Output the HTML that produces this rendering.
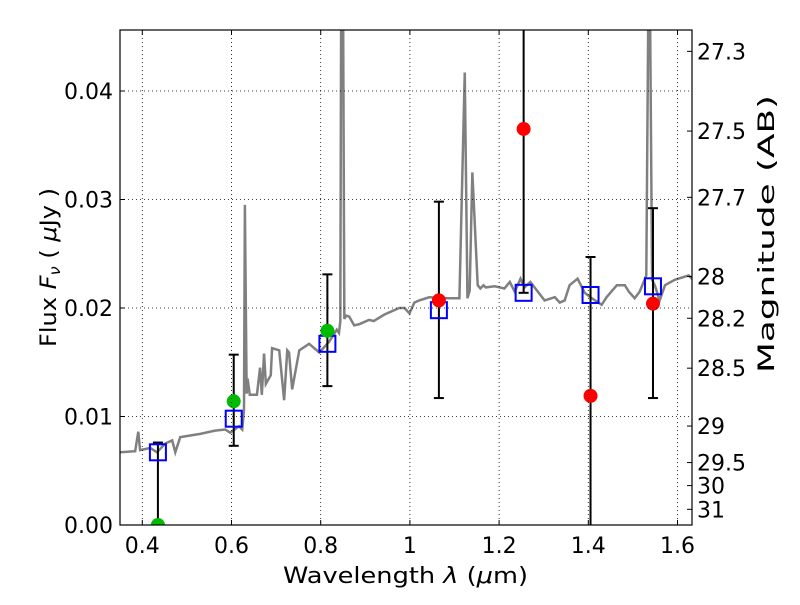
<!DOCTYPE html>
<html><head><meta charset="utf-8"><style>body{margin:0;background:#fff}svg{font-family:"DejaVu Sans","Liberation Sans",sans-serif}</style></head>
<body>
<svg id="chart" width="800" height="600" xmlns="http://www.w3.org/2000/svg"></svg>
<script>
const specLam=[0.35,0.384,0.391,0.395,0.418,0.433,0.451,0.467,0.474,0.485,0.530,0.563,0.586,0.597,0.617,0.624,0.628,0.630,0.634,0.636,0.641,0.657,0.664,0.668,0.673,0.677,0.688,0.691,0.707,0.718,0.725,0.729,0.736,0.752,0.774,0.797,0.819,0.830,0.836,0.841,0.844,0.846,0.850,0.853,0.857,0.864,0.875,0.886,0.908,0.919,0.943,0.976,0.988,0.999,1.010,1.021,1.044,1.066,1.111,1.123,1.129,1.134,1.140,1.152,1.158,1.165,1.170,1.190,1.212,1.224,1.235,1.248,1.257,1.270,1.302,1.325,1.336,1.347,1.358,1.376,1.392,1.408,1.430,1.441,1.464,1.482,1.491,1.504,1.515,1.526,1.530,1.535,1.538,1.543,1.549,1.560,1.572,1.594,1.625,1.635];
const specFlux=[0.0067,0.0068,0.0086,0.0069,0.0071,0.0067,0.0075,0.0078,0.0067,0.0081,0.0084,0.0087,0.0088,0.0085,0.0091,0.0088,0.0106,0.0295,0.0121,0.0135,0.0120,0.0120,0.0145,0.0120,0.0158,0.0130,0.0138,0.0163,0.0161,0.0115,0.0161,0.0159,0.0125,0.0161,0.0167,0.0159,0.0169,0.0176,0.0180,0.0177,0.0188,0.0500,0.0500,0.0190,0.0193,0.0192,0.0184,0.0185,0.0189,0.0188,0.0194,0.0200,0.0200,0.0195,0.0205,0.0207,0.0210,0.0209,0.0209,0.0417,0.0209,0.0216,0.0325,0.0221,0.0218,0.0221,0.0219,0.0220,0.0218,0.0224,0.0215,0.0227,0.0219,0.0224,0.0207,0.0210,0.0205,0.0207,0.0221,0.0227,0.0214,0.0209,0.0203,0.0210,0.0221,0.0221,0.0215,0.0209,0.0215,0.0226,0.0230,0.0500,0.0500,0.0226,0.0221,0.0207,0.0221,0.0226,0.0230,0.0226];
const bandLam=[0.435,0.605,0.815,1.065,1.255,1.405,1.545];
const modelFlux=[0.0067,0.0098,0.0167,0.0198,0.0214,0.0212,0.0220];
const obsFlux=[0.0,0.0114,0.0179,0.0207,0.0365,0.0119,0.0204];
const obsColor=["green","green","green","red","red","red","red"];
const errLo=[-0.01,0.0073,0.0128,0.0117,0.0214,-0.01,0.0117];
const errHi=[0.0076,0.0157,0.0231,0.0298,0.06,0.0247,0.0292];
const xTicks=[0.4,0.6,0.8,1.0,1.2,1.4,1.6];
const xTickLabels=["0.4","0.6","0.8","1","1.2","1.4","1.6"];
const yTicks=[0,0.01,0.02,0.03,0.04];
const yTickLabels=["0.00","0.01","0.02","0.03","0.04"];
const magTicks=[27.3,27.5,27.7,28,28.2,28.5,29,29.5,30,31];
const magLabels=["27.3","27.5","27.7","28","28.2","28.5","29","29.5","30","31"];

const L=120,R=692,T=30,B=525;
const xmin=0.35,xmax=1.6325,ymin=0,ymax=(B-T)/10850;
const sx=v=>L+(v-xmin)/(xmax-xmin)*(R-L);
const sy=v=>B-(v-ymin)/(ymax-ymin)*(B-T);
const NS="http://www.w3.org/2000/svg";
const svg=document.getElementById('chart');
function mk(tag,attrs,parent){const e=document.createElementNS(NS,tag);for(const k in attrs)e.setAttribute(k,attrs[k]);(parent||svg).appendChild(e);return e;}
const defs=mk('defs',{});const cp=mk('clipPath',{id:'clip'},defs);mk('rect',{x:L,y:T,width:R-L,height:B-T},cp);
const plot=mk('g',{'clip-path':'url(#clip)'});

xTicks.forEach((t,i)=>{const x=sx(t);
 const g=mk('line',{x1:x,x2:x,y1:T,y2:B,stroke:'#000','stroke-dasharray':'1,3','stroke-width':0.8});
 
 mk('line',{x1:x,x2:x,y1:B,y2:B-5,stroke:'#000'});mk('line',{x1:x,x2:x,y1:T,y2:T+5,stroke:'#000'});
 const tx=mk('text',{x:x,y:B+28,'text-anchor':'middle','font-size':22});tx.textContent=xTickLabels[i];
 });
yTicks.forEach((t,i)=>{const y=sy(t);
 const g=mk('line',{x1:L,x2:R,y1:y,y2:y,stroke:'#000','stroke-dasharray':'1,3','stroke-width':0.8});
 
 mk('line',{x1:L,x2:L+5,y1:y,y2:y,stroke:'#000'});
 const tx=mk('text',{x:L-7,y:y+8,'text-anchor':'end','font-size':22});tx.textContent=yTickLabels[i];
 });
magTicks.forEach((m,i)=>{const f=Math.pow(10,-(m-23.9)/2.5);const y=sy(f);
 mk('line',{x1:R,x2:R-5,y1:y,y2:y,stroke:'#000'});
 const tx=mk('text',{x:R+5,y:y+8,'font-size':22});tx.textContent=magLabels[i];
 });

const pts=specLam.map((l,i)=>sx(l)+','+sy(specFlux[i])).join(' ');
const sp=mk('polyline',{points:pts,fill:'none',stroke:'#808080','stroke-width':2.5},plot);


bandLam.forEach((l,i)=>{const x=sx(l);
 const e=mk('line',{x1:x,x2:x,y1:sy(errLo[i]),y2:sy(errHi[i]),stroke:'#000','stroke-width':2},plot);
 
 [errLo[i],errHi[i]].forEach(v=>mk('line',{x1:x-5,x2:x+5,y1:sy(v),y2:sy(v),stroke:'#000','stroke-width':2},plot));
 const r=mk('rect',{x:x-8,y:sy(modelFlux[i])-8,width:16,height:16,fill:'none',stroke:'#0000ff','stroke-width':2},plot);
 
 const c=mk('circle',{cx:x,cy:sy(obsFlux[i]),r:7,fill:obsColor[i]==='green'?'#00bb00':'#ff0000'},plot);
 
});

const fr=mk('rect',{x:L,y:T,width:R-L,height:B-T,fill:'none',stroke:'#000','stroke-width':1.2});

const xl=mk('text',{x:283,y:583,'font-size':22,textLength:245,lengthAdjust:'spacingAndGlyphs'});xl.innerHTML='Wavelength  <tspan font-style="italic">λ</tspan> (<tspan font-style="italic">μ</tspan>m)';

const yl=mk('text',{x:0,y:0,'font-size':22,transform:'translate(56 347) rotate(-90)',textLength:159,lengthAdjust:'spacingAndGlyphs'});yl.innerHTML='Flux  <tspan font-style="italic">F</tspan><tspan font-style="italic" font-size="15" dy="4">ν</tspan><tspan dy="-4">  (  </tspan><tspan font-style="italic">μ</tspan>Jy )';

const rl=mk('text',{x:0,y:0,'font-size':22,transform:'translate(774 373) rotate(-90)',textLength:278,lengthAdjust:'spacingAndGlyphs'});rl.textContent='Magnitude (AB)';

</script>
</body></html>
